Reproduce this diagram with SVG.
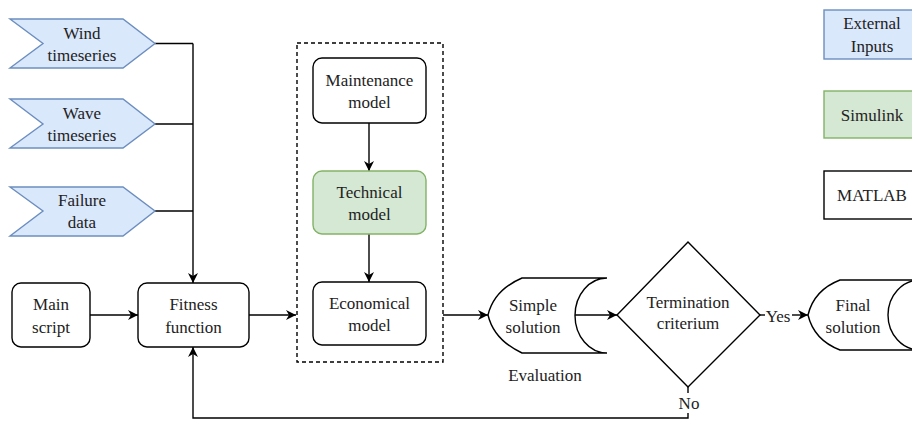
<svg xmlns="http://www.w3.org/2000/svg" width="912" height="421" viewBox="0 0 912 421">
<defs>
<marker id="arr" viewBox="0 0 10 10" refX="10" refY="5" markerWidth="11" markerHeight="10" orient="auto" markerUnits="userSpaceOnUse">
<path d="M0,0 L10,5 L0,10 L3,5 Z" fill="#000"/>
</marker>
</defs>
<style>
text{font-family:'Liberation Serif','Times New Roman','DejaVu Serif',serif;font-size:17px;fill:#222;text-anchor:middle}
.box{fill:#fff;stroke:#000;stroke-width:1.4}
.inp{fill:#dae8fc;stroke:#6c8ebf;stroke-width:1.4}
.sim{fill:#d5e8d4;stroke:#82b366;stroke-width:1.4}
.ln{fill:none;stroke:#000;stroke-width:1.4}
.ar{fill:none;stroke:#000;stroke-width:1.4;marker-end:url(#arr)}
</style>
<rect width="912" height="421" fill="#fff"/>
<g id="connectors">
<path class="ln" d="M155,43.5 H193"/>
<path class="ln" d="M155,124 H193"/>
<path class="ln" d="M155,211 H193"/>
<path class="ar" d="M193,43.5 V283"/>
<path class="ar" d="M90,315 H138"/>
<path class="ar" d="M249,315 H296"/>
<path class="ar" d="M369,123 V171"/>
<path class="ar" d="M369,234 V282"/>
<path class="ar" d="M443,315 H488"/>
<path class="ar" d="M575,315 H617"/>
<path class="ln" d="M760,315 H765"/>
<path class="ar" d="M792,315 H808"/>
<path class="ln" d="M688,387 V393"/>
<path class="ar" d="M688,413 V418 H193 V347"/>
<text x="778" y="322">Yes</text>
<text x="689" y="409">No</text>
</g>
<g id="wind"><path class="inp" d="M10,19 H123 L155,43.5 L123,68 H10 L43,43.5 Z"/><text x="82" y="39">Wind</text><text x="82" y="61">timeseries</text></g>
<g id="wave"><path class="inp" d="M10,99 H123 L155,124 L123,148 H10 L43,124 Z"/><text x="82" y="119">Wave</text><text x="82" y="141">timeseries</text></g>
<g id="failure"><path class="inp" d="M10,187 H123 L155,211 L123,236 H10 L43,211 Z"/><text x="82" y="206">Failure</text><text x="82" y="228">data</text></g>
<g id="main"><rect class="box" x="12" y="283" width="78" height="64" rx="9"/><text x="51" y="310">Main</text><text x="51" y="333">script</text></g>
<g id="fitness"><rect class="box" x="138" y="283" width="111" height="64" rx="9"/><text x="193.5" y="310">Fitness</text><text x="193.5" y="333">function</text></g>
<g id="group"><rect x="297" y="43" width="146" height="319" fill="none" stroke="#000" stroke-width="1.4" stroke-dasharray="4 3"/></g>
<g id="maintenance"><rect class="box" x="313" y="58" width="113" height="65" rx="9"/><text x="369.5" y="86">Maintenance</text><text x="369.5" y="108">model</text></g>
<g id="technical"><rect class="sim" x="313" y="171" width="113" height="63" rx="9"/><text x="369.5" y="198">Technical</text><text x="369.5" y="220">model</text></g>
<g id="economical"><rect class="box" x="313" y="282" width="113" height="63" rx="9"/><text x="369.5" y="309">Economical</text><text x="369.5" y="331">model</text></g>
<g id="simple"><path class="box" d="M522,278 H607 A32,37.5 0 0 0 607,353 H522 Q494,340 488,315 Q494,290 522,278 Z"/><text x="533" y="311">Simple</text><text x="533" y="333">solution</text><text x="545" y="381">Evaluation</text></g>
<g id="termination"><path class="box" d="M688,242 L760,315 L688,387 L617,315 Z"/><text x="688" y="308">Termination</text><text x="688" y="329">criterium</text></g>
<g id="final"><path class="box" d="M840,280 H920 A32,35 0 0 1 920,350 H840 Q814,340 808,315 Q814,290 840,280 Z"/><path class="ln" d="M920,280 A32,35 0 0 0 920,350"/><text x="853" y="311">Final</text><text x="853" y="333">solution</text></g>
<g id="legend-external"><rect class="inp" x="824" y="10" width="96" height="49"/><text x="872" y="29">External</text><text x="872" y="52">Inputs</text></g>
<g id="legend-simulink"><rect class="sim" x="824" y="91" width="96" height="47"/><text x="872" y="121">Simulink</text></g>
<g id="legend-matlab"><rect class="box" x="824" y="171" width="96" height="48"/><text x="872" y="201">MATLAB</text></g>
</svg>
